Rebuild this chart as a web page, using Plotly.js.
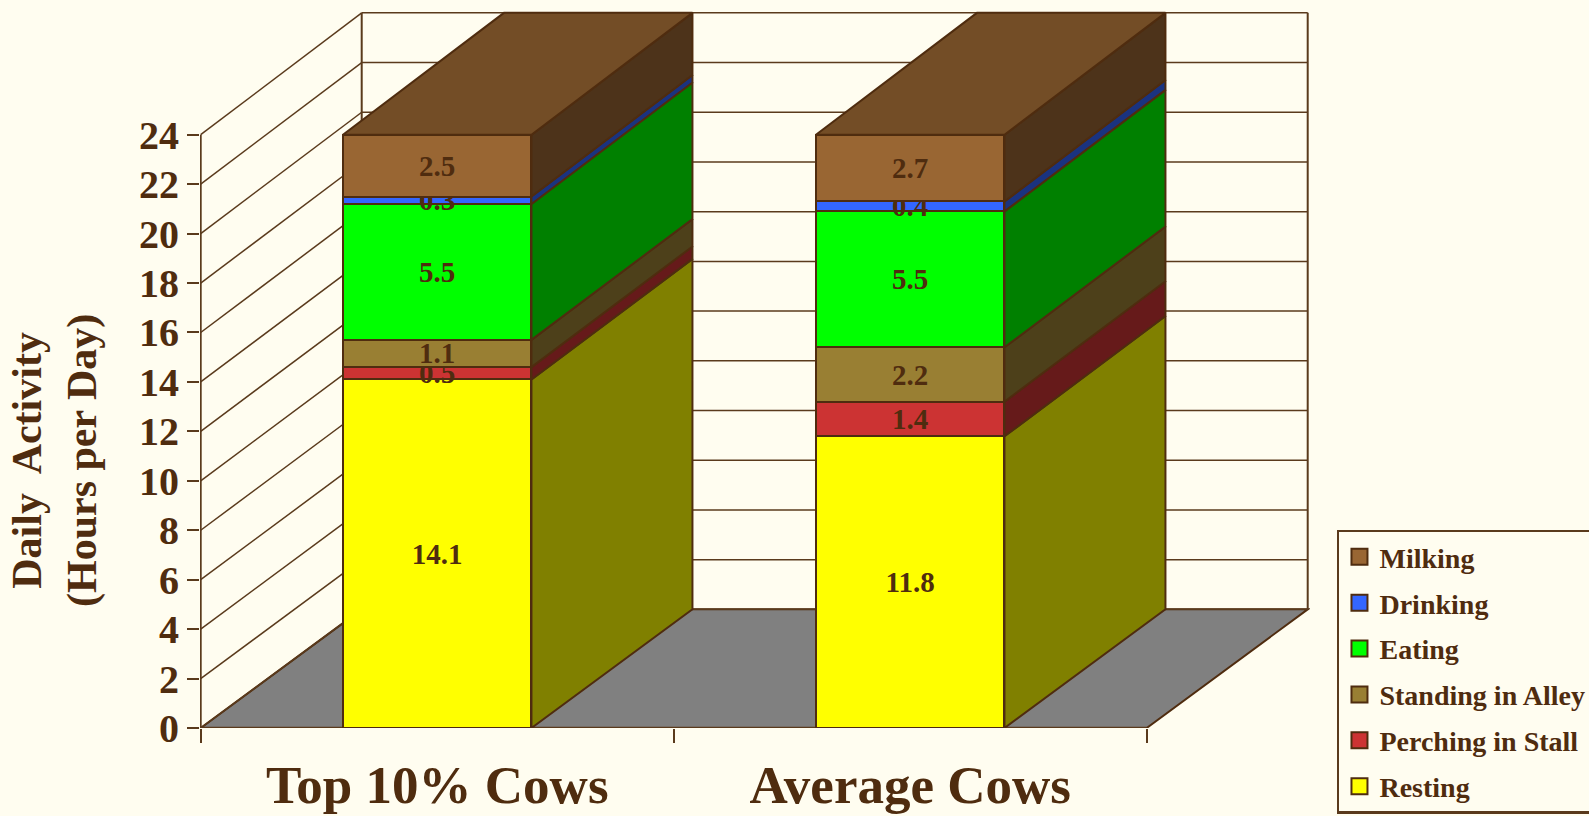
<!DOCTYPE html>
<html>
<head>
<meta charset="utf-8">
<script src="https://cdn.plot.ly/plotly-3.0.1.min.js"></script>
<style>html,body{margin:0;padding:0;background:#FFFDF0;overflow:hidden}#chart{width:1589px;height:816px}</style>
</head>
<body>
<div id="chart"></div>
<script>
const categories = ['Top 10% Cows', 'Average Cows'];
const seriesNames = ['Resting', 'Perching in Stall', 'Standing in Alley', 'Eating', 'Drinking', 'Milking'];
const resting  = [14.1, 11.8];
const perching = [0.5, 1.4];
const standing = [1.1, 2.2];
const eating   = [5.5, 5.5];
const drinking = [0.3, 0.4];
const milking  = [2.5, 2.7];
const seriesValues = [resting, perching, standing, eating, drinking, milking];
const frontColors = ['#FFFF00', '#CC3333', '#997F33', '#00FF00', '#3366FF', '#996633'];
const sideColors  = ['#808000', '#661A1A', '#4D401A', '#008000', '#1A3380', '#4D331A'];
const topColor = '#734D26';
const floorColor = '#808080';
const ink = '#4F2C0F';
const lineCol = '#5A3A1C';
const bg = '#FFFDF0';
const yTicks = [0,2,4,6,8,10,12,14,16,18,20,22,24];
const catCenters = [0.5, 1.5];
const catEdges = [0, 1, 2];
const barWidth = 0.3985;
const depthX = 0.3404;
const serif = '"Liberation Serif", "Times New Roman", serif';
const back = v => v * 1.0054 + 4.8;   // oblique projection of the depth

const traces = [];
// front faces
seriesNames.forEach((name, s) => {
  traces.push({
    type: 'bar', name, x: catCenters, y: seriesValues[s], width: barWidth,
    text: seriesValues[s].map(v => v.toFixed(1)), textposition: 'inside',
    insidetextanchor: 'middle', textangle: 0, constraintext: 'none',
    textfont: {family: serif, size: 29, color: ink, weight: 'bold'},
    marker: {color: frontColors[s], line: {color: ink, width: 2}},
    showlegend: false, hoverinfo: 'name+y'
  });
});
// right side and top faces
catCenters.forEach((c, i) => {
  const xl = c - barWidth / 2, xr = c + barWidth / 2;
  let base = 0;
  seriesNames.forEach((name, s) => {
    const t = base + seriesValues[s][i];
    traces.push({
      type: 'scatter', mode: 'lines', fill: 'toself', fillcolor: sideColors[s],
      x: [xr, xr + depthX, xr + depthX, xr, xr], y: [base, back(base), back(t), t, base],
      line: {color: ink, width: 2}, showlegend: false, hoverinfo: 'skip'
    });
    base = t;
  });
  traces.push({
    type: 'scatter', mode: 'lines', fill: 'toself', fillcolor: topColor,
    x: [xl, xr, xr + depthX, xl + depthX, xl], y: [base, base, back(base), back(base), base],
    line: {color: ink, width: 2}, showlegend: false, hoverinfo: 'skip'
  });
});
// legend entries, top of the stack first
seriesNames.slice().reverse().forEach((name, r) => {
  const s = seriesNames.length - 1 - r;
  traces.push({
    type: 'scatter', mode: 'markers', name, x: [null], y: [null], legendgroup: name,
    marker: {symbol: 'square', size: 17, color: frontColors[s], line: {color: ink, width: 2}},
    hoverinfo: 'skip'
  });
});

// walls and floor drawn behind everything
const maxY = yTicks[yTicks.length - 1];
const shapes = [];
const seg = (x0, y0, x1, y1, w) => ({type: 'line', layer: 'below', xref: 'x', yref: 'y', x0, y0, x1, y1, line: {color: lineCol, width: w || 1.5}});
shapes.push({type: 'path', layer: 'below', xref: 'x', yref: 'y', fillcolor: floorColor,
  path: `M0,0L${catEdges[2]},0L${catEdges[2] + depthX},${back(0)}L${depthX},${back(0)}Z`,
  line: {color: ink, width: 2}});
yTicks.forEach(v => {
  shapes.push(seg(0, v, depthX, back(v)));
  shapes.push(seg(depthX, back(v), catEdges[2] + depthX, back(v)));
});
shapes.push(seg(0, 0, 0, maxY, 2));
shapes.push(seg(depthX, back(0), depthX, back(maxY), 2));
shapes.push(seg(catEdges[2] + depthX, back(0), catEdges[2] + depthX, back(maxY), 2));
shapes.push(seg(0, 0, catEdges[2], 0, 2.5));

const pxX = 473, pxY = 24.72;
const layout = {
  width: 1589, height: 816,
  paper_bgcolor: bg, plot_bgcolor: bg,
  barmode: 'stack',
  showlegend: true,
  margin: {l: 200, r: 279, t: 5, b: 88, autoexpand: false},
  xaxis: {
    range: [-0.7 / pxX, 1109.3 / pxX], showgrid: false, zeroline: false, showline: false,
    tickmode: 'array', tickvals: catCenters, ticktext: categories, ticks: '',
    tickfont: {family: serif, size: 53, color: ink, weight: 'bold'}, ticklabelstandoff: 21,
    minor: {tickmode: 'array', tickvals: catEdges, ticks: 'outside', ticklen: 14, tickwidth: 2, tickcolor: lineCol, showgrid: false}
  },
  yaxis: {
    range: [0, 723 / pxY], showgrid: false, zeroline: false, showline: false,
    tickmode: 'array', tickvals: yTicks, ticks: 'outside', ticklen: 12, tickwidth: 2, tickcolor: lineCol,
    tickfont: {family: serif, size: 40, color: ink, weight: 'bold'}
  },
  annotations: [{
    xref: 'paper', yref: 'paper', x: (55 - 200) / 1110, y: (728 - 461) / 723, xanchor: 'center', yanchor: 'middle',
    text: 'Daily  Activity<br>(Hours per Day)', textangle: -90, showarrow: false,
    font: {family: serif, size: 42, color: ink, weight: 'bold'}
  }],
  legend: {
    x: 1.0243, xanchor: 'left', y: 0.2745, yanchor: 'top',
    bgcolor: bg, bordercolor: lineCol, borderwidth: 2.5,
    font: {family: serif, size: 28, color: ink, weight: 'bold'},
    traceorder: 'grouped', tracegroupgap: 6.5, itemclick: false, itemdoubleclick: false
  },
  shapes
};
Plotly.newPlot('chart', traces, layout, {displayModeBar: false});
</script>
</body>
</html>
